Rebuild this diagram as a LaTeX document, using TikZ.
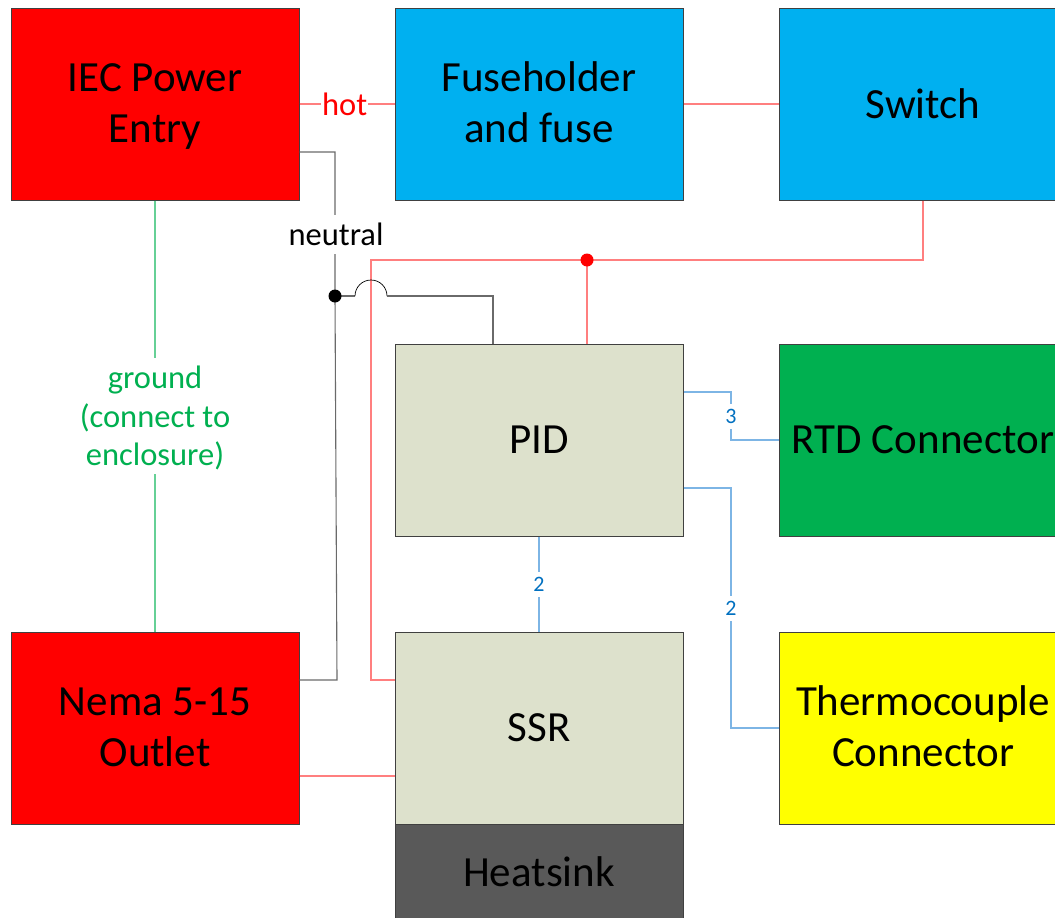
\documentclass[tikz,border=0pt]{standalone}
\usepackage{fontspec}
\setmainfont{Carlito}
\definecolor{cred}{HTML}{FF0000}
\definecolor{cyel}{HTML}{FFFF00}
\definecolor{cblue}{HTML}{00B0F0}
\definecolor{cgreen}{HTML}{00B050}
\definecolor{ctan}{HTML}{DDE1CC}
\definecolor{cgray}{HTML}{595959}
\definecolor{tblue}{HTML}{0070C0}
\definecolor{wblue}{HTML}{7DB5E5}
\definecolor{wred}{HTML}{FF7F7F}
\definecolor{wgrn}{HTML}{66D096}
\definecolor{wblk}{HTML}{6A6A6A}
\definecolor{edge}{HTML}{404040}
\newcommand\stt{\rule[-12pt]{0pt}{50pt}}
\begin{document}
\begin{tikzpicture}[x=1pt,y=-1pt,
 box/.style={draw=edge,line width=1pt,minimum width=288pt,minimum height=192pt,inner sep=0pt,align=center,font=\fontsize{43}{51}\selectfont,text=black},
 wr/.style={draw=wred,line width=1.1pt},
 wk/.style={draw=wblk,line width=1.1pt},
 wb/.style={draw=wblue,line width=1.1pt},
 wg/.style={draw=wgrn,line width=1.1pt},
 lab/.style={fill=white,inner sep=1pt,font=\fontsize{32.5}{38.5}\selectfont,align=center},
 sm/.style={fill=white,inner ysep=0pt,inner xsep=1pt,minimum height=25pt,font=\fontsize{22}{24}\selectfont,text=tblue},
 dot/.style={circle,inner sep=0pt,minimum size=13pt}]
\useasboundingbox (0,0) rectangle (1055,918);
\node[box,fill=cred] (iec) at (155,104) {\stt IEC Power\\Entry\stt};
\node[box,fill=cblue] (fuse) at (539,104) {\stt Fuseholder\\and fuse\stt};
\node[box,fill=cblue] (sw) at (923,104) {Switch};
\node[box,fill=ctan] (pid) at (539,440) {PID};
\node[box,fill=cgreen] (rtd) at (923,440) {RTD Connector};
\node[box,fill=cred] (nema) at (155,728) {\stt Nema 5-15\\Outlet\stt};
\node[box,fill=ctan] (ssr) at (539,728) {SSR};
\node[box,fill=cyel] (tc) at (923,728) {\stt Thermocouple\\Connector\stt};
\node[draw=edge,line width=1pt,fill=cgray,minimum width=288pt,minimum height=96pt,inner sep=0pt,font=\fontsize{43}{51}\selectfont] (hs) at (539,872) {Heatsink};
\coordinate (rc) at (587,260);
\coordinate (kc) at (335,296);
% hot
\draw[wr] (iec.east) -- (fuse.west) node[lab,pos=0.475,text=cred] {hot};
\draw[wr] (fuse.east) -- (sw.west);
% switch
\draw[wr] (sw.south) |- (rc) -- (pid.north -| rc);
\draw[wr] (rc) -- (371,260) -- (371,680) -- (ssr.west |- 0,680);
\draw[wr] (nema.east |- 0,776) -- (ssr.west |- 0,776);
% neutral
\draw[wk] (iec.east |- 0,152) -- (335,152) -- (kc) -- (337,680) -- (nema.east |- 0,680);
\node[lab,minimum height=39pt,inner ysep=0pt] (neu) at (336,234.5) {neutral};
\draw[wk] (kc) -- (355,296);
\draw[black,line width=0.7pt] (355,296) arc (180:360:16);
\draw[wk] (387,296) -- (493,296) -- (pid.north -| 493,0);
\node[dot,fill=cred] (rd) at (rc) {};
\node[dot,fill=black] (kd) at (kc) {};
% ground
\draw[wg] (iec.south) -- (nema.north) node[lab,inner ysep=3.5pt,midway,text=cgreen] {\rule{0pt}{27pt}ground\\(connect to\\enclosure)};
% blue
\draw[wb] (pid.east |- 0,392) -- (731,392) -- (731,440) -- (rtd.west);
\node[sm] (n3) at (731,416) {3};
\draw[wb] (pid.east |- 0,488) -- (731,488) -- (731,728) -- (tc.west);
\node[sm] (n2) at (731,608) {2};
\draw[wb] (pid.south) -- (ssr.north) node[sm,midway] {2};
\end{tikzpicture}
\end{document}
